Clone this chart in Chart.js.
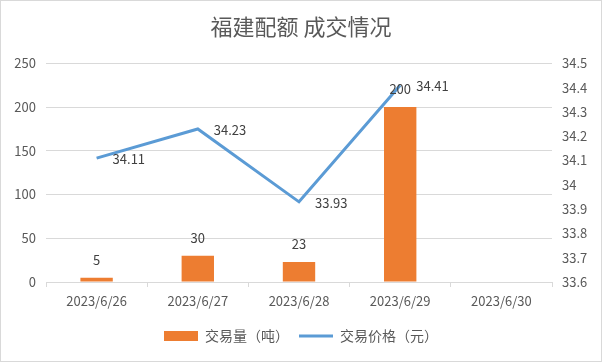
<!DOCTYPE html>
<html><head><meta charset="utf-8">
<script src="https://cdn.jsdelivr.net/npm/chart.js@4/dist/chart.umd.min.js"></script>
<style>
html,body{margin:0;padding:0;background:#fff;}
#wrap{position:relative;width:600px;height:360px;border:1px solid #d9d9d9;}
</style></head>
<body>
<div id="wrap"><canvas id="c" width="600" height="360"></canvas></div>
<script>
const categories = ['2023/6/26','2023/6/27','2023/6/28','2023/6/29','2023/6/30'];
const volume = [5, 30, 23, 200, null];
const price = [34.11, 34.23, 33.93, 34.41, null];
const volumeName = '交易量（吨）';
const priceName = '交易价格（元）';
const titleText = '福建配额 成交情况';

const FONT = '"Noto Sans CJK SC", "Noto Sans", sans-serif';
const GREY = '#595959';

const labelPlugin = {
  id: 'valueLabels',
  afterDatasetsDraw(chart) {
    const ctx = chart.ctx;
    ctx.save();
    ctx.font = '13px ' + FONT;
    ctx.fillStyle = '#404040';
    ctx.textBaseline = 'middle';
    chart.data.datasets.forEach((ds, di) => {
      const meta = chart.getDatasetMeta(di);
      meta.data.forEach((el, i) => {
        const v = ds.data[i];
        if (v === null || v === undefined) return;
        if (ds.type === 'line') {
          ctx.textAlign = 'left';
          ctx.fillText(String(v), el.x + 16, el.y + 1);
        } else {
          ctx.textAlign = 'center';
          ctx.fillText(String(v), el.x, el.y - 18);
        }
      });
    });
    ctx.restore();
  }
};

new Chart(document.getElementById('c'), {
  data: {
    labels: categories,
    datasets: [
      {
        type: 'line', label: priceName, data: price, yAxisID: 'yR',
        borderColor: '#5B9BD5', backgroundColor: '#5B9BD5', borderWidth: 3,
        pointRadius: 0, pointStyle: 'line', tension: 0, order: 0
      },
      {
        type: 'bar', label: volumeName, data: volume, yAxisID: 'yL',
        backgroundColor: '#ED7D31', borderWidth: 0, pointStyle: 'rect',
        categoryPercentage: 1, barPercentage: 0.32, order: 1
      }
    ]
  },
  plugins: [labelPlugin],
  options: {
    responsive: false, animation: false,
    layout: { padding: { left: 0, right: 0, top: 0, bottom: 8 } },
    plugins: {
      title: { display: true, text: titleText, color: GREY,
        font: { family: FONT, size: 22, weight: 'normal' }, lineHeight: 1.2,
        padding: { top: 12, bottom: 24 } },
      legend: { position: 'bottom', reverse: true,
        labels: { usePointStyle: true, pointStyleWidth: 34, boxHeight: 10,
          color: GREY, font: { family: FONT, size: 14 }, padding: 10 } },
      tooltip: { enabled: false }
    },
    scales: {
      x: {
        offset: true,
        grid: { offset: true, drawOnChartArea: false, tickLength: 5, color: '#d9d9d9' },
        border: { color: '#d9d9d9' },
        ticks: { color: GREY, font: { family: FONT, size: 13 }, padding: 6, maxRotation: 0 },
        afterFit(s) { s.height = 37; }
      },
      yL: {
        position: 'left', min: 0, max: 250,
        ticks: { stepSize: 50, color: GREY, font: { family: FONT, size: 13 }, padding: 10 },
        grid: { color: '#d9d9d9', drawTicks: false },
        border: { display: false },
        afterFit(s) { s.width = 45; }
      },
      yR: {
        position: 'right', min: 33.6, max: 34.5,
        ticks: { stepSize: 0.1, color: GREY, font: { family: FONT, size: 13 }, padding: 10,
          callback: v => String(Number(Number(v).toFixed(1))) },
        grid: { display: false, drawTicks: false },
        border: { display: false },
        afterFit(s) { s.width = 49; }
      }
    }
  }
});
</script>
</body></html>
